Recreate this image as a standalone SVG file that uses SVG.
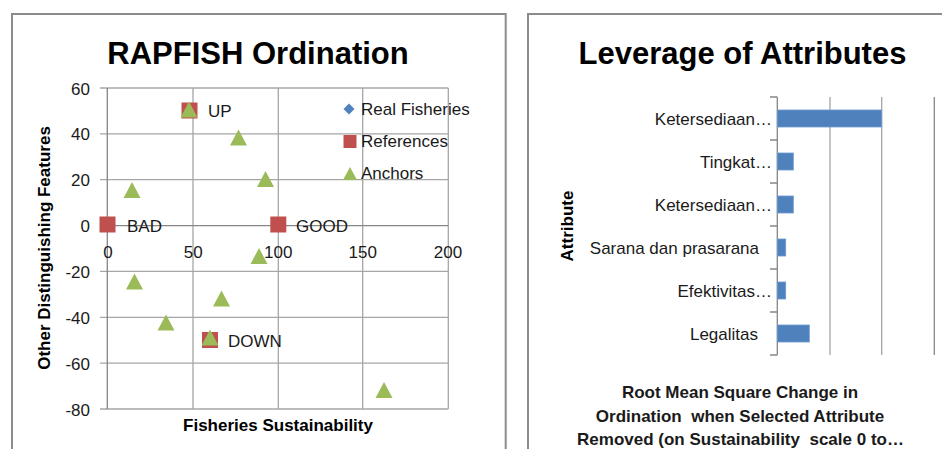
<svg xmlns="http://www.w3.org/2000/svg" width="942" height="449" viewBox="0 0 942 449">
<style>
text{font-family:"Liberation Sans",Arial,sans-serif;fill:#1a1a1a}
.title{font-size:31px;font-weight:bold;fill:#000;text-anchor:middle}
.tick{font-size:17px}
.r{text-anchor:end}
.m{text-anchor:middle}
.ax{font-size:17px;font-weight:bold;fill:#000;text-anchor:middle}
.pre{white-space:pre}
.grid{stroke:#A6A6A6;stroke-width:1.3;fill:none}
.axis{stroke:#868686;stroke-width:1.3;fill:none}
.frame{stroke:#8C8C8C;stroke-width:2;fill:none}
.ref{fill:#C0504D}
.anc{fill:#9BBB59}
.bar{fill:#4F81BD;stroke:#6E9AD0;stroke-width:0.8}
</style>
<defs>
<path id="tri" d="M-8.5,7.5 L0,-8.5 L8.5,7.5 Z"/>
<rect id="sq" x="-8" y="-8" width="16" height="16"/>
</defs>

<g id="ordination-chart">
<path class="frame" d="M12,460 V14 H505.7 V460"/>
<text class="title" x="258" y="64">RAPFISH Ordination</text>
<g id="ord-grid">
<path class="grid" d="M107.3,88 H448.3 M107.3,133.9 H448.3 M107.3,179.7 H448.3 M107.3,271.4 H448.3 M107.3,317.3 H448.3 M107.3,363.1 H448.3 M100,409 H448.3 M193,88 V409 M278.3,88 V409 M362.7,88 V409 M448.3,88 V409"/>
<path class="grid" d="M100,88 H107.3 M100,133.9 H107.3 M100,179.7 H107.3 M100,271.4 H107.3 M100,317.3 H107.3 M100,363.1 H107.3 M100,225.6 H107.3"/>
<path class="axis" d="M107.3,88 V409 M107.3,225.6 H448.3"/>
</g>
<g id="ord-yticks" class="tick">
<text class="r" x="90" y="94.5">60</text>
<text class="r" x="90" y="140.4">40</text>
<text class="r" x="90" y="186.2">20</text>
<text class="r" x="90" y="232">0</text>
<text class="r" x="90" y="277.9">-20</text>
<text class="r" x="90" y="323.8">-40</text>
<text class="r" x="90" y="369.6">-60</text>
<text class="r" x="90" y="415.5">-80</text>
</g>
<g id="ord-xticks" class="tick">
<text class="m" x="108" y="258">0</text>
<text class="m" x="193.3" y="258">50</text>
<text class="m" x="278.3" y="258">100</text>
<text class="m" x="362.7" y="258">150</text>
<text class="m" x="448" y="258">200</text>
</g>
<text class="ax" x="278" y="431">Fisheries Sustainability</text>
<text class="ax" transform="translate(50,248) rotate(-90)">Other Distinguishing Features</text>

<g id="references">
<use href="#sq" class="ref" x="189.5" y="110.5"/>
<use href="#sq" class="ref" x="107.5" y="224.5"/>
<use href="#sq" class="ref" x="278.3" y="224.5"/>
<use href="#sq" class="ref" x="210" y="340"/>
</g>
<g id="anchors">
<use href="#tri" class="anc" x="189" y="110"/>
<use href="#tri" class="anc" x="238.5" y="138"/>
<use href="#tri" class="anc" x="265.5" y="179.5"/>
<use href="#tri" class="anc" x="132" y="190.5"/>
<use href="#tri" class="anc" x="259" y="256.5"/>
<use href="#tri" class="anc" x="134.5" y="282"/>
<use href="#tri" class="anc" x="166" y="323"/>
<use href="#tri" class="anc" x="221.5" y="299"/>
<use href="#tri" class="anc" x="210" y="338"/>
<use href="#tri" class="anc" x="384" y="390.5"/>
</g>
<g id="point-labels" class="tick">
<text x="208" y="117">UP</text>
<text x="127" y="232">BAD</text>
<text x="296" y="232">GOOD</text>
<text x="228" y="347">DOWN</text>
</g>
<g id="legend" class="tick">
<path d="M349,103.5 L354.5,109 L349,114.5 L343.5,109 Z" fill="#4F81BD"/>
<text x="361" y="115">Real Fisheries</text>
<rect class="ref" x="343.5" y="135" width="13" height="13"/>
<text x="361" y="147">References</text>
<path class="anc" d="M343,180 L350,167 L357,180 Z"/>
<text x="361" y="179">Anchors</text>
</g>
</g>

<g id="leverage-chart">
<path class="frame" d="M528,460 V14 H950"/>
<text class="title" x="742.5" y="64">Leverage of Attributes</text>
<g id="lev-grid">
<path class="grid" d="M830,97 V355 M881.7,97 V355"/>
<path class="axis" d="M934.3,97 V355"/>
<path class="axis" d="M777.3,97 V355 M770,97 H777.3 M770,140 H777.3 M770,183 H777.3 M770,226 H777.3 M770,269 H777.3 M770,312 H777.3 M770,355 H777.3"/>
</g>
<g id="bars">
<rect class="bar" x="777.3" y="110" width="104.4" height="17"/>
<rect class="bar" x="777.3" y="153" width="16" height="17"/>
<rect class="bar" x="777.3" y="196" width="16" height="17"/>
<rect class="bar" x="777.3" y="239" width="8.4" height="17"/>
<rect class="bar" x="777.3" y="282" width="8.4" height="17"/>
<rect class="bar" x="777.3" y="325" width="32" height="17"/>
</g>
<g id="categories" class="tick">
<text class="r" x="772" y="125">Ketersediaan…</text>
<text class="r" x="772" y="168">Tingkat…</text>
<text class="r" x="772" y="211">Ketersediaan…</text>
<text class="r" x="759" y="254">Sarana dan prasarana</text>
<text class="r" x="772" y="297">Efektivitas…</text>
<text class="r" x="758" y="340">Legalitas</text>
</g>
<text class="ax" transform="translate(573,226) rotate(-90)">Attribute</text>
<g id="lev-xtitle" class="ax">
<text class="pre" xml:space="preserve" x="740" y="398">Root Mean Square Change in</text>
<text class="pre" xml:space="preserve" x="740" y="421.7">Ordination  when Selected Attribute</text>
<text class="pre" xml:space="preserve" x="740.5" y="445">Removed (on Sustainability  scale 0 to…</text>
</g>
</g>
</svg>
